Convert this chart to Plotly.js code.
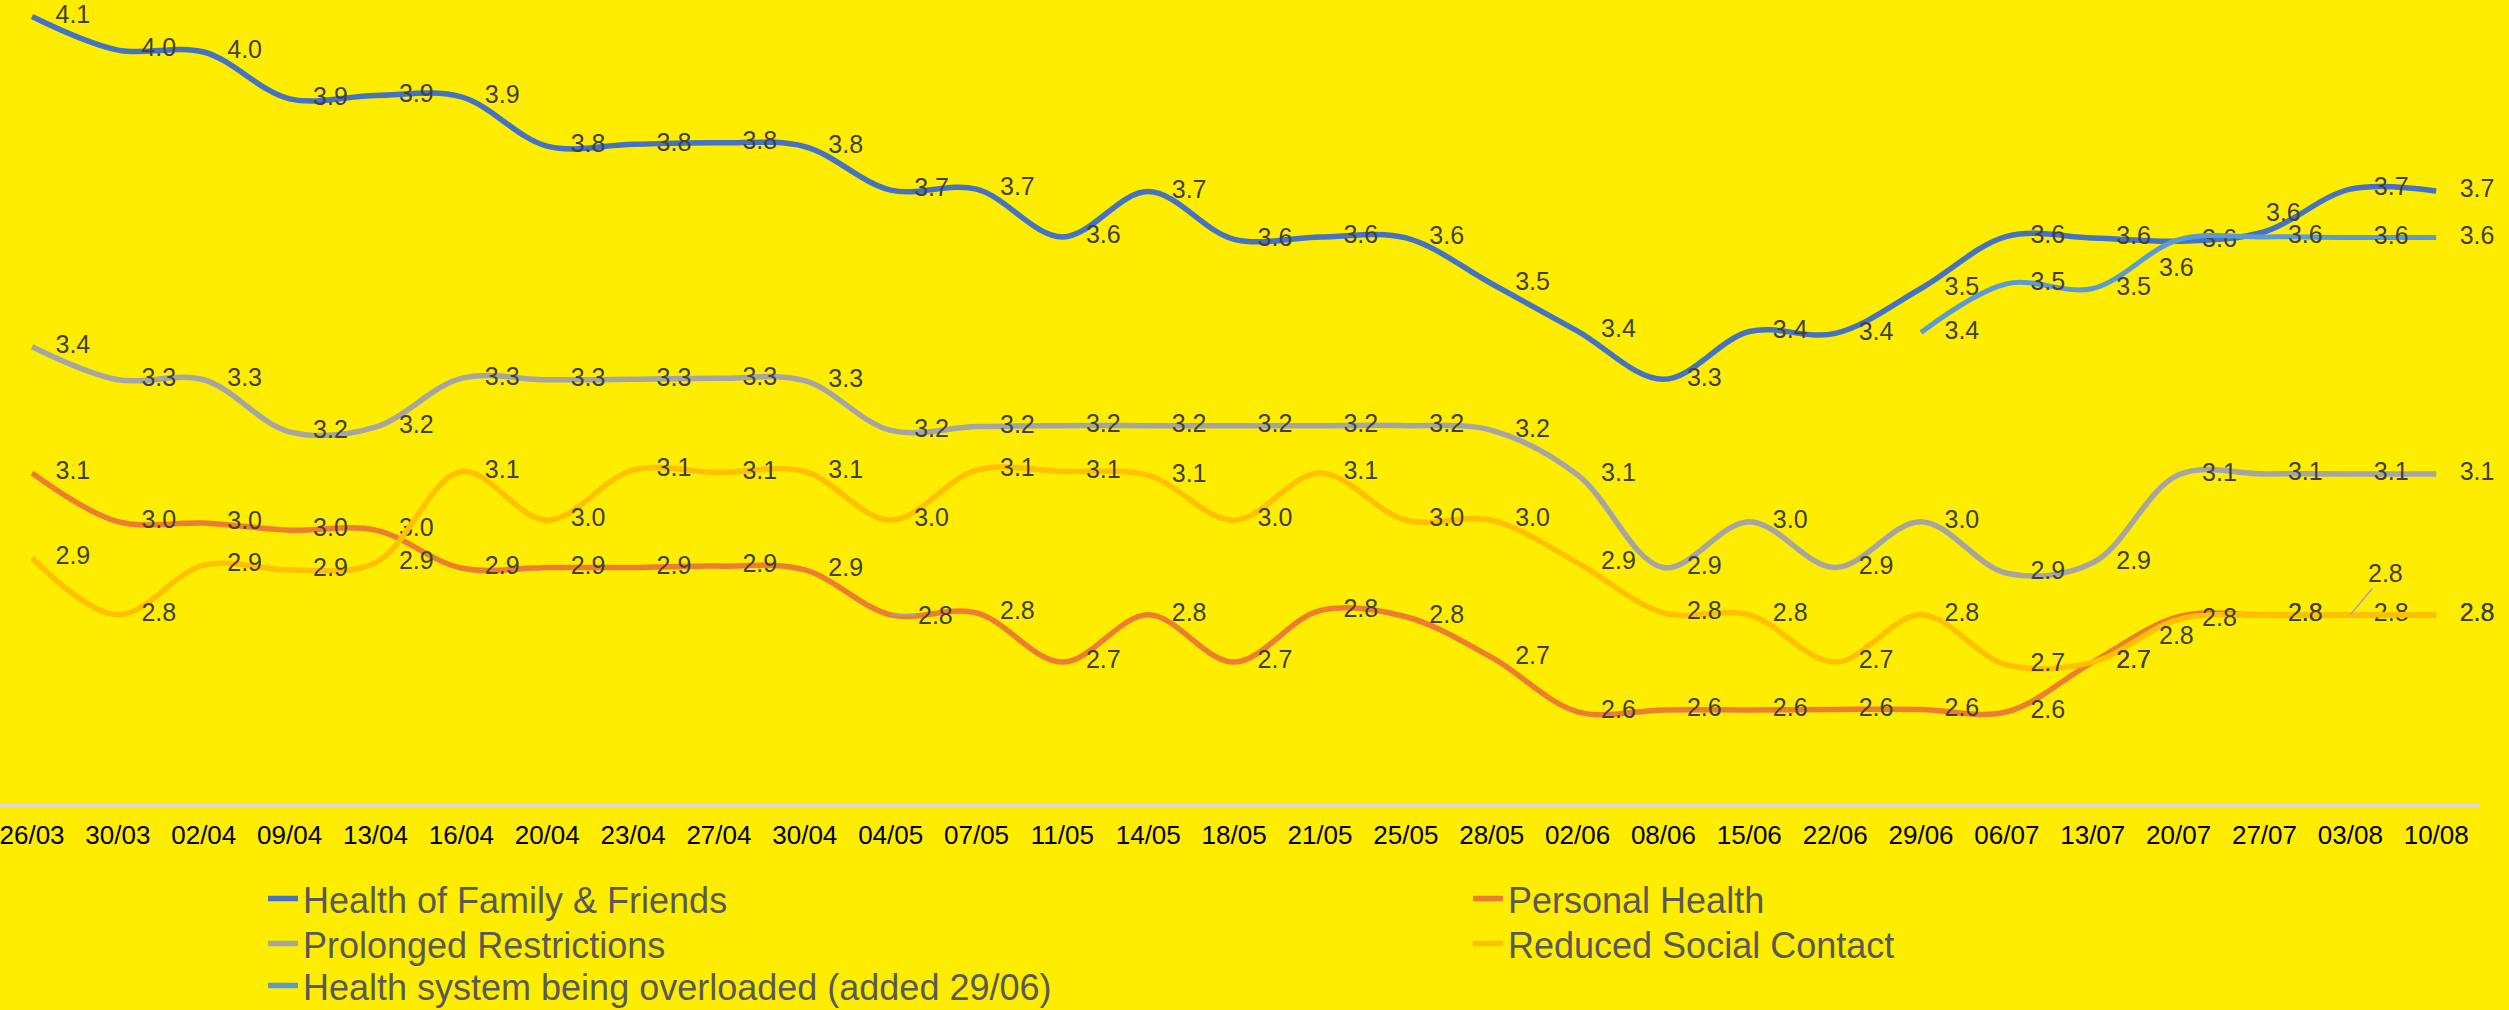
<!DOCTYPE html>
<html>
<head>
<meta charset="utf-8">
<script src="https://cdn.plot.ly/plotly-3.0.1.min.js"></script>
<style>
html,body{margin:0;padding:0;background:#FFED00;}
#chart{width:2509px;height:1010px;}
</style>
</head>
<body>
<div id="chart"></div>
<script>
const categories = ["26/03","30/03","02/04","09/04","13/04","16/04","20/04","23/04","27/04","30/04",
  "04/05","07/05","11/05","14/05","18/05","21/05","25/05","28/05","02/06","08/06",
  "15/06","22/06","29/06","06/07","13/07","20/07","27/07","03/08","10/08"];

const familyFriends = [4.065,3.994,3.99,3.891,3.898,3.895,3.791,3.795,3.798,3.79,
  3.698,3.70,3.599,3.695,3.594,3.599,3.597,3.50,3.40,3.298,
  3.399,3.395,3.49,3.60,3.597,3.59,3.61,3.70,3.696];

const personalHealth = [3.10,2.997,2.994,2.979,2.979,2.899,2.90,2.90,2.903,2.895,
  2.80,2.804,2.70,2.80,2.70,2.809,2.796,2.71,2.595,2.599,
  2.599,2.60,2.60,2.595,2.70,2.796,2.80,2.80,2.80];

const prolongedRestrictions = [3.367,3.297,3.297,3.187,3.197,3.30,3.297,3.298,3.30,3.295,
  3.19,3.198,3.20,3.20,3.20,3.20,3.20,3.19,3.096,2.90,
  2.997,2.90,2.997,2.888,2.91,3.096,3.098,3.098,3.098];

const reducedSocialContact = [2.92,2.80,2.905,2.895,2.91,3.103,3.0,3.106,3.101,3.103,
  3.0,3.106,3.103,3.095,3.0,3.10,3.0,3.0,2.91,2.804,
  2.80,2.70,2.80,2.694,2.70,2.79,2.80,2.80,2.80];

const healthSystem = [null,null,null,null,null,null,null,null,null,null,
  null,null,null,null,null,null,null,null,null,null,
  null,null,3.397,3.50,3.49,3.593,3.599,3.598,3.598];

const seriesNames = ["Health of Family & Friends","Personal Health","Prolonged Restrictions",
  "Reduced Social Contact","Health system being overloaded (added 29/06)"];
const seriesColors = ['#4472C4','#ED7D31','#A5A5A5','#FFC000','#5B9BD5'];
const legendRows = ['legend','legend','legend2','legend2','legend3'];

const FONT = '"Liberation Sans", Arial, sans-serif';
const LABEL_COLOR = '#404040';
const LABEL_SIZE = 25;

// labels drawn separately as annotations (index per series)
const annotated = {0:[26], 1:[10,25], 3:[27], 4:[25]};

function makeTrace(idx, values, width) {
  const skip = annotated[idx] || [];
  return {
    type: 'scatter',
    mode: 'lines+markers+text',
    name: seriesNames[idx],
    showlegend: false,
    x: categories,
    y: values,
    text: values.map((v, i) => (v == null || skip.indexOf(i) >= 0) ? '' : v.toFixed(1)),
    textposition: 'middle right',
    textfont: {family: FONT, size: LABEL_SIZE, color: LABEL_COLOR},
    cliponaxis: false,
    line: {color: seriesColors[idx], width: width, shape: 'spline', smoothing: 1},
    marker: {size: 36, opacity: 0, color: seriesColors[idx]},
    hoverinfo: 'x+y+name'
  };
}

function legendTrace(idx) {
  return {
    type: 'scatter', mode: 'lines', name: seriesNames[idx],
    x: [null], y: [null], showlegend: true, legend: legendRows[idx],
    line: {color: seriesColors[idx], width: 5.5}
  };
}

const data = [
  makeTrace(0, familyFriends, 5.5),
  makeTrace(1, personalHealth, 5.5),
  makeTrace(2, prolongedRestrictions, 5.5),
  makeTrace(3, reducedSocialContact, 5.5),
  makeTrace(4, healthSystem, 5),
  legendTrace(0), legendTrace(1), legendTrace(2), legendTrace(3), legendTrace(4)
];

const annFont = {family: FONT, size: LABEL_SIZE, color: LABEL_COLOR};
const annotations = [
  {x: categories[26], y: familyFriends[26], text: familyFriends[26].toFixed(1),
   xref: 'x', yref: 'y', showarrow: false, xanchor: 'left', yanchor: 'middle', xshift: 0, yshift: 20, font: annFont},
  {x: categories[25], y: healthSystem[25], text: healthSystem[25].toFixed(1),
   xref: 'x', yref: 'y', showarrow: false, xanchor: 'center', yanchor: 'middle', xshift: -2, yshift: -27, font: annFont},
  {x: categories[25], y: personalHealth[25], text: personalHealth[25].toFixed(1),
   xref: 'x', yref: 'y', showarrow: false, xanchor: 'center', yanchor: 'middle', xshift: -2, yshift: -18, font: annFont},
  {x: categories[27], y: reducedSocialContact[27], text: reducedSocialContact[27].toFixed(1),
   xref: 'x', yref: 'y', showarrow: true, arrowhead: 0, arrowwidth: 1.5, arrowcolor: '#A6A6B8',
   ax: 35, ay: -42, standoff: 0, font: annFont},
  {x: categories[10], y: personalHealth[10], text: personalHealth[10].toFixed(1),
   xref: 'x', yref: 'y', showarrow: true, arrowhead: 0, arrowwidth: 1.5, arrowcolor: '#A5A5A5',
   ax: 45, ay: 0, standoff: 0, font: annFont}
];

function legendBox(yPaper) {
  return {
    orientation: 'h',
    x: 263 / 2480, xanchor: 'left',
    y: yPaper, yanchor: 'top',
    font: {family: FONT, size: 36, color: '#595959'},
    entrywidth: 1160, entrywidthmode: 'pixels',
    bgcolor: 'rgba(0,0,0,0)',
    traceorder: 'normal'
  };
}

const layout = {
  width: 2509,
  height: 1010,
  paper_bgcolor: '#FFED00',
  plot_bgcolor: '#FFED00',
  margin: {l: 0, r: 29, t: 0, b: 206, autoexpand: false},
  font: {family: FONT},
  showlegend: true,
  legend: legendBox(-0.0805),
  legend2: legendBox(-0.1364),
  legend3: legendBox(-0.1885),
  xaxis: {
    type: 'category',
    range: [-0.373, 28.51],
    showgrid: false, zeroline: false,
    showline: true, linecolor: '#D9D9D9', linewidth: 3,
    ticks: '',
    ticklabelstandoff: 6,
    tickmode: 'array', tickvals: categories, ticktext: categories,
    tickfont: {family: FONT, size: 26, color: '#000000'},
    fixedrange: true
  },
  yaxis: {
    range: [2.4, 4.1],
    visible: false,
    showgrid: false, zeroline: false,
    fixedrange: true
  },
  annotations: annotations
};

Plotly.newPlot('chart', data, layout, {displayModeBar: false, staticPlot: true});
</script>
</body>
</html>
